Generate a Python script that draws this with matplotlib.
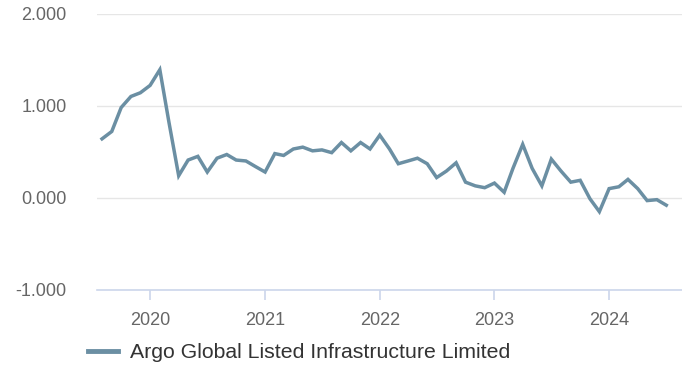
import numpy as np
import pandas as pd
import matplotlib
matplotlib.use("Agg")
import matplotlib.pyplot as plt
import matplotlib.dates as mdates

# ------------------------------------------------------------------
# data (monthly)
# ------------------------------------------------------------------
series_name = "Argo Global Listed Infrastructure Limited"
months = pd.date_range("2019-08-01", "2024-07-01", freq="MS")
values = [
    0.64, 0.72, 0.98, 1.10, 1.14,                                      # 2019
    1.22, 1.39, 0.82, 0.24, 0.41, 0.45, 0.28, 0.43, 0.47, 0.41, 0.40, 0.34,  # 2020
    0.28, 0.48, 0.46, 0.53, 0.55, 0.51, 0.52, 0.49, 0.60, 0.51, 0.60, 0.53,  # 2021
    0.68, 0.53, 0.37, 0.40, 0.43, 0.37, 0.22, 0.29, 0.38, 0.17, 0.13, 0.11,  # 2022
    0.16, 0.06, 0.32, 0.58, 0.32, 0.13, 0.42, 0.29, 0.17, 0.19, -0.01, -0.15,  # 2023
    0.10, 0.12, 0.20, 0.10, -0.03, -0.02, -0.08,                        # 2024
]
y_ticks = [-1, 0, 1, 2]
year_ticks = [2020, 2021, 2022, 2023, 2024]

# ------------------------------------------------------------------
# plot
# ------------------------------------------------------------------
plt.rcParams["font.family"] = ["Liberation Sans", "DejaVu Sans"]

fig = plt.figure(figsize=(6.82, 3.67), dpi=100)
ax = fig.add_axes([97 / 682, 1 - 290 / 367, 1 - 97 / 682, (290 - 13.5) / 367])

ax.plot(months, values, color="#6b8fa3", lw=2.5, solid_joinstyle="miter",
        label=series_name, zorder=3)

ax.set_ylim(-1, 2)
ax.set_yticks(y_ticks)
ax.set_yticklabels([f"{v:.3f}" for v in y_ticks])
ax.set_xlim(pd.Timestamp("2019-07-16"), pd.Timestamp("2024-08-20"))
ax.set_xticks([pd.Timestamp(f"{y}-01-01") for y in year_ticks])
ax.xaxis.set_major_formatter(mdates.DateFormatter("%Y"))

ax.grid(axis="y", color="#e6e6e6", lw=1)
ax.set_axisbelow(True)
for s in ["top", "right", "left"]:
    ax.spines[s].set_visible(False)
ax.spines["bottom"].set_color("#ccd6eb")
ax.spines["bottom"].set_linewidth(1.2)

ax.tick_params(axis="y", length=0, pad=22, labelsize=13, labelcolor="#666666")
ax.tick_params(axis="x", length=7, width=1.2, color="#ccd6eb", pad=9,
               labelsize=13, labelcolor="#666666")

leg = fig.legend(loc="center left", bbox_to_anchor=(88 / 682, 1 - 353 / 367),
                 frameon=False, fontsize=15.3, handlelength=1.42, handletextpad=0.55,
                 borderpad=0, borderaxespad=0)
for t in leg.get_texts():
    t.set_color("#333333")
for h in leg.get_lines():
    h.set_linewidth(3.5)

fig.savefig("out.png", dpi=100)
